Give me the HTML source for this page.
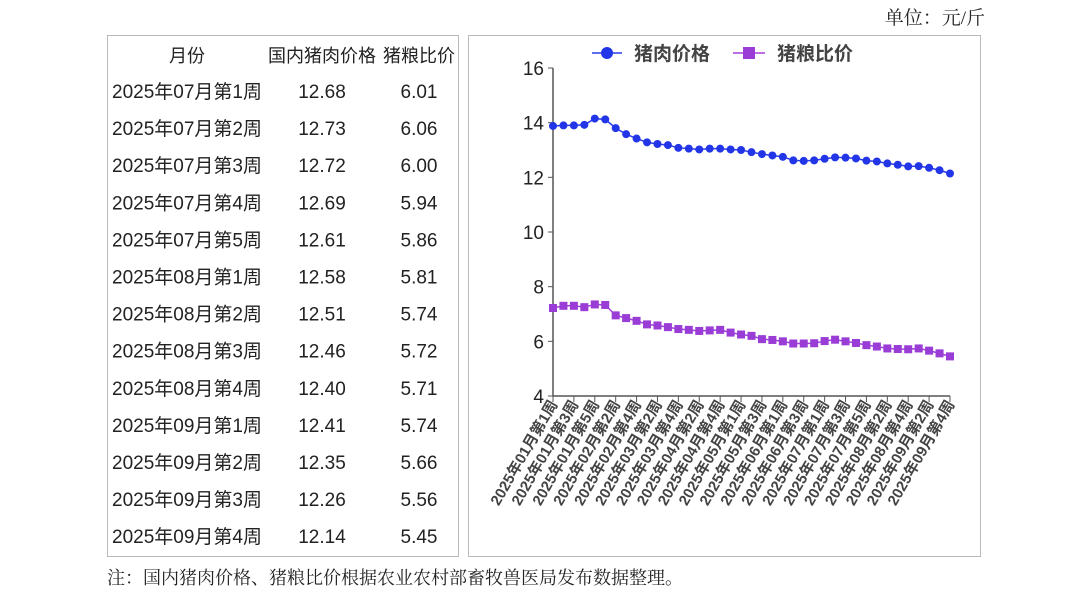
<!DOCTYPE html>
<html><head><meta charset="utf-8"><style>
body{margin:0;background:#fff;}
svg{display:block}
</style></head><body>
<svg width="1080" height="605" xmlns="http://www.w3.org/2000/svg" font-family="'Liberation Sans','Noto Sans CJK SC',sans-serif">
<text x="985" y="24" text-anchor="end" font-size="19" font-family="'Liberation Serif','Noto Serif CJK SC',serif" fill="#222">单位：元/斤</text>
<rect x="107.5" y="35.5" width="351" height="521" fill="none" stroke="#bbb"/>
<rect x="468.5" y="35.5" width="512" height="521" fill="none" stroke="#bbb"/>
<g font-size="18" fill="#222">
<text x="187" y="62" text-anchor="middle">月份</text>
<text x="322" y="62" text-anchor="middle">国内猪肉价格</text>
<text x="419" y="62" text-anchor="middle">猪粮比价</text>
</g>
<g id="rows" font-size="19" fill="#222"></g>
<text x="107" y="584" font-size="18" font-family="'Liberation Serif','Noto Serif CJK SC',serif" fill="#222">注：国内猪肉价格、猪粮比价根据农业农村部畜牧兽医局发布数据整理。</text>
<g id="chart"></g>
</svg>
<script>
var ns="http://www.w3.org/2000/svg";
function el(p,t,a,txt){var e=document.createElementNS(ns,t);for(var k in a)e.setAttribute(k,a[k]);if(txt!=null)e.textContent=txt;p.appendChild(e);return e;}
var rows=[["2025年07月第1周","12.68","6.01"],["2025年07月第2周","12.73","6.06"],["2025年07月第3周","12.72","6.00"],["2025年07月第4周","12.69","5.94"],["2025年07月第5周","12.61","5.86"],["2025年08月第1周","12.58","5.81"],["2025年08月第2周","12.51","5.74"],["2025年08月第3周","12.46","5.72"],["2025年08月第4周","12.40","5.71"],["2025年09月第1周","12.41","5.74"],["2025年09月第2周","12.35","5.66"],["2025年09月第3周","12.26","5.56"],["2025年09月第4周","12.14","5.45"]];
var R=document.getElementById("rows");
rows.forEach(function(r,i){var y=98+i*37.1;el(R,"text",{x:112,y:y},r[0]);el(R,"text",{x:322,y:y,"text-anchor":"middle"},r[1]);el(R,"text",{x:419,y:y,"text-anchor":"middle"},r[2]);});
var C=document.getElementById("chart");
var x0=553,x1=950,yT=68,yB=396;
function Y(v){return yB-(v-4)*(yB-yT)/12;}
var n=39;function X(i){return x0+i*(x1-x0)/(n-1);}
el(C,"line",{x1:x0,y1:yT,x2:x0,y2:yB,stroke:"#555","stroke-width":1.5});
el(C,"line",{x1:x0,y1:yB,x2:x1,y2:yB,stroke:"#555","stroke-width":1.5});
[4,6,8,10,12,14,16].forEach(function(v){el(C,"line",{x1:x0-5,y1:Y(v),x2:x0,y2:Y(v),stroke:"#555"});el(C,"text",{x:x0-9,y:Y(v)+7,"text-anchor":"end","font-size":19,fill:"#222"},v);});
var labs=["01月第1周","01月第3周","01月第5周","02月第2周","02月第4周","03月第2周","03月第4周","04月第2周","04月第4周","05月第1周","05月第3周","06月第1周","06月第3周","07月第1周","07月第3周","07月第5周","08月第2周","08月第4周","09月第2周","09月第4周"];
labs.forEach(function(l,j){var x=X(j*2);el(C,"line",{x1:x,y1:yB,x2:x,y2:yB+6,stroke:"#555"});el(C,"text",{transform:"translate("+(x+5)+","+(yB+8)+") rotate(-60)","text-anchor":"end","font-size":15,"font-weight":"bold",fill:"#444"},"2025年"+l);});
var b=[13.88,13.9,13.9,13.92,14.15,14.12,13.8,13.58,13.42,13.28,13.22,13.18,13.08,13.05,13.02,13.05,13.05,13.02,13.0,12.92,12.85,12.8,12.75,12.62,12.6,12.62,12.68,12.73,12.72,12.69,12.61,12.58,12.51,12.46,12.40,12.41,12.35,12.26,12.14];
var p=[7.22,7.3,7.3,7.25,7.35,7.33,6.95,6.85,6.75,6.62,6.58,6.52,6.45,6.42,6.38,6.4,6.42,6.32,6.25,6.2,6.08,6.05,6.0,5.92,5.92,5.93,6.01,6.06,6.0,5.94,5.86,5.81,5.74,5.72,5.71,5.74,5.66,5.56,5.45];
el(C,"polyline",{points:b.map(function(v,i){return X(i)+","+Y(v)}).join(" "),fill:"none",stroke:"#2a3be8","stroke-width":1.5});
b.forEach(function(v,i){el(C,"circle",{cx:X(i),cy:Y(v),r:4,fill:"#2236e8"});});
el(C,"polyline",{points:p.map(function(v,i){return X(i)+","+Y(v)}).join(" "),fill:"none",stroke:"#a040d8","stroke-width":1.5});
p.forEach(function(v,i){el(C,"rect",{x:X(i)-4,y:Y(v)-4,width:8,height:8,fill:"#9a3cd6"});});
el(C,"line",{x1:592,y1:53,x2:622,y2:53,stroke:"#2a3be8","stroke-width":1.5});
el(C,"circle",{cx:607,cy:53,r:6,fill:"#2236e8"});
el(C,"text",{x:634,y:60,"font-size":19,"font-weight":"bold",fill:"#444"},"猪肉价格");
el(C,"line",{x1:733,y1:53,x2:765,y2:53,stroke:"#a040d8","stroke-width":1.5});
el(C,"rect",{x:743,y:47,width:12,height:12,fill:"#9a3cd6"});
el(C,"text",{x:777,y:60,"font-size":19,"font-weight":"bold",fill:"#444"},"猪粮比价");
</script>
</body></html>
